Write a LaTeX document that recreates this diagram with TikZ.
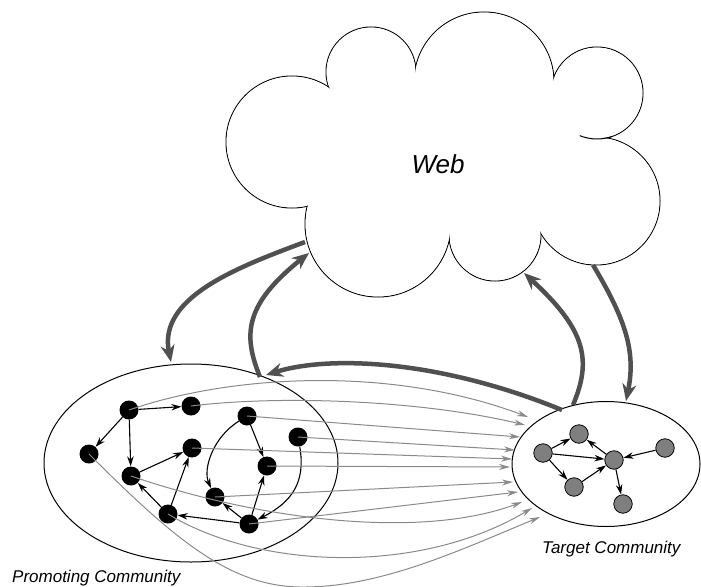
\documentclass[tikz,border=0pt]{standalone}
\usepackage{fontspec}
\setmainfont{Liberation Sans}
\usetikzlibrary{arrows.meta,shapes.geometric}
\definecolor{heavygray}{HTML}{505050}
\definecolor{linkgray}{HTML}{8A8A8A}
\definecolor{gnodefill}{HTML}{7F7F7F}
\begin{document}
\begin{tikzpicture}[x=1pt,y=-1pt,
  bnode/.style={circle,fill=black,minimum size=19pt,inner sep=0pt},
  gnode/.style={circle,draw=black,line width=0.8pt,fill=gnodefill,minimum size=18.5pt,inner sep=0pt},
  community/.style={draw=black,line width=1pt,ellipse,inner sep=0pt},
  edge/.style={line width=1.1pt,-{Stealth[length=10pt,width=6.5pt]}},
  link/.style={draw=linkgray,line width=1pt,-{Stealth[length=11pt,width=6pt]}},
  heavy/.style={draw=heavygray,line width=4.5pt,-{Stealth[length=17pt,width=14pt]}},
  lbl/.style={font=\fontsize{17}{20}\selectfont\itshape,inner sep=0pt},
  cloudline/.style={line width=1pt}
]
\useasboundingbox (0,0) rectangle (701,586);

% ---- Web cloud ----
\foreach \cx/\cy/\r in {292/142/66,371/72/45,484/82/70,597/93/46,596/201/64,495/235/46,378/224/73}
  \draw[cloudline] (\cx,\cy) circle[radius=\r];
\foreach \cx/\cy/\r in {292/142/66,371/72/45,484/82/70,597/93/46,596/201/64,495/235/46,378/224/73}
  \fill[white] (\cx,\cy) circle[radius=\r-0.6];
\fill[white] (332,180) -- (340,100) -- (415,76) -- (553,89) -- (597,138) -- (537,221) -- (450,231) -- cycle;
\draw[cloudline] (597,93) ++(70:46) arc[start angle=70,end angle=112,radius=46];
\node[font=\fontsize{26}{30}\selectfont\itshape,anchor=base,inner sep=0pt] (web) at (438,173) {Web};

% ---- communities ----
\node[community,minimum width=294pt,minimum height=198pt] (promo) at (191,463) {};
\node[community,minimum width=188pt,minimum height=125pt] (target) at (606,464) {};
\node[lbl,anchor=base west] (promolbl) at (12,582) {Promoting Community};
\node[lbl,anchor=base west] (targetlbl) at (542,553) {Target Community};

% ---- promoting nodes ----
\node[bnode] (pA) at (129,410) {};
\node[bnode] (pB) at (191,406) {};
\node[bnode] (pC) at (89,454) {};
\node[bnode] (pD) at (131,476) {};
\node[bnode] (pE) at (192,448) {};
\node[bnode] (pF) at (247,416) {};
\node[bnode] (pG) at (298,437) {};
\node[bnode] (pH) at (267,466) {};
\node[bnode] (pI) at (215,497) {};
\node[bnode] (pJ) at (168,514) {};
\node[bnode] (pK) at (249,524) {};

\draw[edge] (pA) -- (pB);
\draw[edge] (pA) -- (pC);
\draw[edge] (pA) -- (pD);
\draw[edge] (pD) -- (pE);
\draw[edge] (pJ) -- (pD);
\draw[edge] (pJ) -- (pE);
\draw[edge] (pK) -- (pJ);
\draw[edge] (pK) -- (pI);
\draw[edge] (pK) -- (pH);
\draw[edge] (pF) -- (pH);
\draw[edge] (pF) .. controls (212,438) and (203,470) .. (pI);
\draw[edge] (pG) .. controls (306,482) and (292,502) .. (pK);

% ---- target nodes ----
\node[gnode] (tP) at (543,453) {};
\node[gnode] (tQ) at (579,434) {};
\node[gnode] (tR) at (614,460) {};
\node[gnode] (tS) at (665,448) {};
\node[gnode] (tT) at (574,487) {};
\node[gnode] (tU) at (623,504) {};

\draw[edge] (tP) -- (tQ);
\draw[edge] (tP) -- (tR);
\draw[edge] (tP) -- (tT);
\draw[edge] (tT) -- (tR);
\draw[edge] (tR) -- (tQ);
\draw[edge] (tS) -- (tR);
\draw[edge] (tR) -- (tU);

% ---- links promoting -> target ----
\coordinate (t1) at (528,417);
\coordinate (t2) at (525,425);
\coordinate (t3) at (520,437);
\coordinate (t4) at (515,450);
\coordinate (t5) at (512,459);
\coordinate (t6) at (510,467);
\coordinate (t7) at (513,482);
\coordinate (t8) at (518,492);
\coordinate (t9) at (522,502);
\coordinate (t10) at (532,508);
\coordinate (t11) at (540,517);
\coordinate (lowpt) at (300,587);

\draw[link] (pA.center) .. controls (230,375) and (390,365) .. (t1);
\draw[link] (pB.center) .. controls (280,395) and (420,400) .. (t2);
\draw[link] (pF.center) -- (t3);
\draw[link] (pG.center) -- (t4);
\draw[link] (pE.center) -- (t5);
\draw[link] (pH.center) -- (t6);
\draw[link] (pI.center) -- (t7);
\draw[link] (pK.center) -- (t8);
\draw[link] (pD.center) .. controls (260,520) and (420,540) .. (t9);
\draw[link] (pJ.center) .. controls (260,570) and (420,575) .. (t10);
\draw[link] (pC.center) .. controls (175,540) and (230,586) .. (lowpt) .. controls (380,588) and (460,550) .. (t11);

% ---- heavy arrows ----
\coordinate (h1s) at (305,242);
\coordinate (h1e) at (171,362);
\coordinate (h2s) at (260,377);
\coordinate (h2e) at (309,253);
\coordinate (h3s) at (573,405);
\coordinate (h3e) at (524,273);
\coordinate (h4s) at (593,265);
\coordinate (h4e) at (626,401);
\coordinate (h5s) at (562,410);
\coordinate (h5e) at (266,375);

\draw[heavy] (h1s) .. controls (235,268) and (158,298) .. (h1e);
\draw[heavy] (h2s) .. controls (243,335) and (244,305) .. (h2e);
\draw[heavy] (h3s) .. controls (592,360) and (586,330) .. (h3e);
\draw[heavy] (h4s) .. controls (626,320) and (636,352) .. (h4e);
\draw[heavy] (h5s) .. controls (440,360) and (330,355) .. (h5e);
\end{tikzpicture}
\end{document}
